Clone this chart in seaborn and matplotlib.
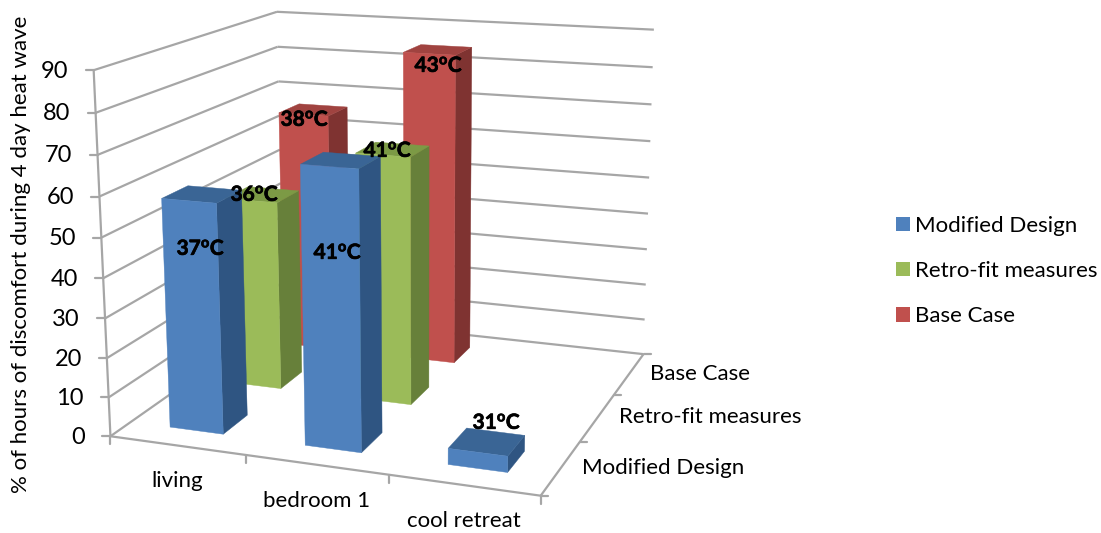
import numpy as np
import pandas as pd
import matplotlib
matplotlib.use("Agg")
import matplotlib.pyplot as plt
import matplotlib.patheffects as pe
from matplotlib.patches import Patch
import seaborn as sns

# ---- chart values ----
rooms = ["living", "bedroom 1", "cool retreat"]
scenarios = ["Modified Design", "Retro-fit measures", "Base Case"]
modified_design = [58, 69, 4]
retro_fit = [50, 64.5, np.nan]
base_case = [66, 84.5, np.nan]
modified_temps = ["37", "41", "31"]
retro_temps = ["36", "41", ""]
base_temps = ["38", "43", ""]
z_ticks = list(range(0, 100, 10))

# ---- styling ----
front_colours = ["#4F81BD", "#9BBB59", "#C0504D"]
side_colours = ["#2F5582", "#67803A", "#7F3331"]
top_colours = ["#3A6595", "#7C9A45", "#A04340"]
grid_colour = "#A6A6A6"
label_font = ["Lato", "DejaVu Sans"]
base_size = 16
bar_margin = 0.3

# Camera of the oblique view: (room, scenario, percent) paired with figure pixels.
camera_world = np.array([
    (0, 0, 0), (0, 0, 10), (0, 0, 30), (0, 0, 50), (0, 0, 70), (0, 0, 90),
    (0, 3, 90), (0, 3, 80), (0, 3, 70), (0, 3, 0),
    (3, 3, 90), (3, 3, 50), (3, 3, 0),
    (1, 0, 0), (2, 0, 0), (3, 0, 0), (3, 1, 0), (3, 2, 0),
], dtype=float)
camera_pixels = np.array([
    (109, 436), (108, 397), (106, 318), (101, 237), (99, 155), (94.5, 71),
    (276, 12), (277, 46), (277, 81), (286, 316),
    (655, 30), (649, 178), (641, 354),
    (245, 455), (388, 477), (539, 495), (583, 441), (615, 394),
], dtype=float)


def fit_camera(world, pixels):
    rows, rhs = [], []
    for (x, y, z), (u, v) in zip(world, pixels):
        rows.append([x, y, z, 1, 0, 0, 0, 0, -u * x, -u * y, -u * z])
        rows.append([0, 0, 0, 0, x, y, z, 1, -v * x, -v * y, -v * z])
        rhs += [u, v]
    sol = np.linalg.lstsq(np.array(rows), np.array(rhs), rcond=None)[0]
    return np.append(sol, 1.0).reshape(3, 4)


camera = fit_camera(camera_world, camera_pixels)


def project(x, y, z):
    px = camera @ np.array([x, y, z, 1.0])
    return px[0] / px[2], px[1] / px[2]


sns.set_theme(style="white")
plt.rcParams["font.family"] = label_font
plt.rcParams["mathtext.fontset"] = "custom"
plt.rcParams["mathtext.bf"] = "Lato:bold"
plt.rcParams["mathtext.rm"] = "Lato:bold"
palette = sns.color_palette(front_colours)

table = pd.DataFrame({
    "room": rooms * 3,
    "scenario": np.repeat(scenarios, 3),
    "value": modified_design + retro_fit + base_case,
    "temp": modified_temps + retro_temps + base_temps,
})

fig, ax = plt.subplots(figsize=(11.01, 5.33), dpi=100)
fig.subplots_adjust(0, 0, 1, 1)
ax.set_xlim(0, 1101)
ax.set_ylim(533, 0)
ax.axis("off")
sns.despine(ax=ax, left=True, bottom=True)


def line3d(a, b, lw=1.6, z=1):
    pa, pb = project(*a), project(*b)
    ax.plot([pa[0], pb[0]], [pa[1], pb[1]], color=grid_colour, lw=lw, zorder=z,
            solid_capstyle="butt")


# Walls, floor edges and ticks
for v in z_ticks:
    line3d((0, 0, v), (0, 3, v))
    line3d((0, 3, v), (3, 3, v))
    u, w = project(0, 0, v)
    ax.plot([u - 8, u], [w, w], color=grid_colour, lw=1.6, zorder=1)
    ax.text(u - 25, w + 1, str(v), ha="right", va="center", fontsize=base_size + 1,
            color="black")
line3d((0, 0, 0), (0, 0, 90))
line3d((0, 0, 0), (3, 0, 0))
line3d((3, 0, 0), (3, 3, 0))
for i in range(4):
    u, w = project(i, 0, 0)
    ax.plot([u, u], [w, w + 8], color=grid_colour, lw=1.6, zorder=1)
    u, w = project(3, i, 0)
    ax.plot([u, u + 7], [w, w], color=grid_colour, lw=1.6, zorder=1)

for i, name in enumerate(rooms):
    u, w = project(i + 0.5, 0, 0)
    ax.text(u, w + 36, name, ha="center", va="center", fontsize=base_size, color="black")
for j, name in enumerate(scenarios):
    u, w = project(3, j + 0.5, 0)
    ax.text(u + 21, w, name, ha="left", va="center", fontsize=base_size, color="black")

ax.text(21, 254, "% of hours of discomfort during 4 day heat wave", rotation=90,
        ha="center", va="center", fontsize=base_size, color="black")


def bar3d(x0, x1, y0, y1, height, series):
    def face(points, colour):
        xy = np.array([project(*p) for p in points])
        ax.fill(xy[:, 0], xy[:, 1], color=colour, lw=0.3, zorder=3)

    face([(x1, y0, 0), (x1, y1, 0), (x1, y1, height), (x1, y0, height)], side_colours[series])
    face([(x0, y0, height), (x1, y0, height), (x1, y1, height), (x0, y1, height)], top_colours[series])
    face([(x0, y0, 0), (x1, y0, 0), (x1, y0, height), (x0, y0, height)], palette[series])


# Rows are painted from the back so nearer bars cover farther ones
for j in reversed(range(len(scenarios))):
    row = table[table["scenario"] == scenarios[j]]
    for i, value in enumerate(row["value"]):
        if not np.isnan(value):
            bar3d(i + bar_margin, i + 1 - bar_margin, j + bar_margin, j + 1 - bar_margin, value, j)

# Temperature annotations
annotation_anchor = {
    (0, 0): (201, 249), (1, 0): (338, 253), (2, 0): (497, 423),
    (0, 1): (255, 195), (1, 1): (388, 151),
    (0, 2): (305, 120), (1, 2): (439, 66),
}
for (i, j), (u, w) in annotation_anchor.items():
    temp = table[table["scenario"] == scenarios[j]]["temp"].iloc[i]
    ax.text(u, w, rf"$\mathbf{{{temp}^{{o}}C}}$", ha="center", va="center",
            fontsize=base_size - 1, color="black", zorder=6,
            path_effects=[pe.withStroke(linewidth=0.5, foreground="black")])

handles = [Patch(facecolor=palette[k], edgecolor="none", label=scenarios[k]) for k in range(3)]
ax.legend(handles=handles, loc="center left", bbox_to_anchor=(896, 271),
          bbox_transform=ax.transData, frameon=False, fontsize=base_size,
          handlelength=0.63, handleheight=0.63, handletextpad=0.22,
          labelspacing=1.14, borderpad=0, borderaxespad=0, labelcolor="black")

fig.savefig("out.png", dpi=100)
